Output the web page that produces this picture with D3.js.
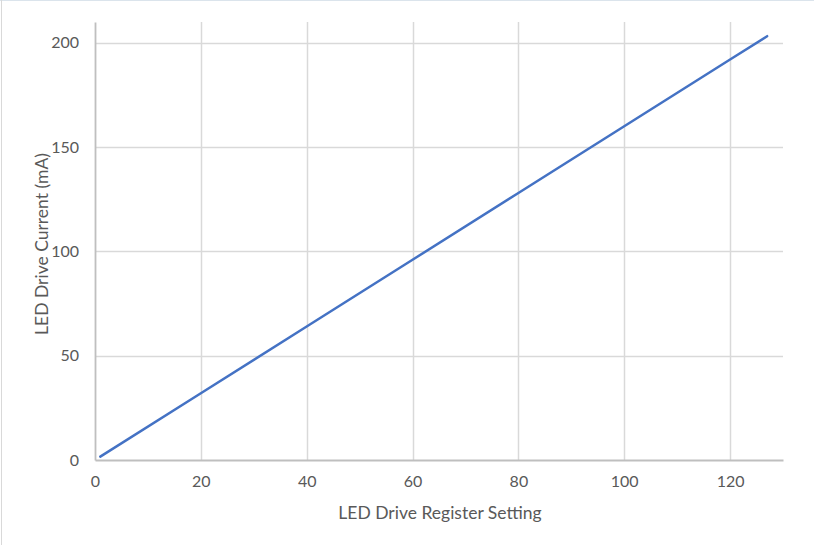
<!DOCTYPE html>
<html><head><meta charset="utf-8">
<script src="https://cdn.jsdelivr.net/npm/d3@7"></script>
<style>body{margin:0;background:#fff}svg{display:block}</style>
</head><body>
<svg id="c" width="814" height="545"></svg>
<script>
const registerSetting = [1, 20, 40, 60, 80, 100, 120, 127];
const driveCurrent = [1.6, 32, 64, 96, 128, 160, 192, 203.2];
const xTicks = [0, 20, 40, 60, 80, 100, 120];
const yTicks = [0, 50, 100, 150, 200];
const xTitle = "LED Drive Register Setting";
const yTitle = "LED Drive Current (mA)";

const svg = d3.select("#c");
const font = "Lato, 'Open Sans', sans-serif";
const m = {l: 95, r: 783, t: 22, b: 460};
const x = d3.scaleLinear().domain([0, 130]).range([m.l, m.r]);
const y = d3.scaleLinear().domain([0, 210]).range([m.b, m.t]);

// outer border
svg.append("line").attr("x1",0).attr("x2",814).attr("y1",0.5).attr("y2",0.5).attr("stroke","#dbe4ec");
svg.append("line").attr("x1",1.5).attr("x2",1.5).attr("y1",0).attr("y2",545).attr("stroke","#d9d9d9");

// grid
svg.append("g").selectAll("line").data(yTicks.filter(d=>d>0)).join("line")
  .attr("x1", m.l).attr("x2", m.r).attr("y1", d=>Math.round(y(d))+0.5).attr("y2", d=>Math.round(y(d))+0.5)
  .attr("stroke","#d9d9d9").attr("stroke-width",1.5);
svg.append("g").selectAll("line").data(xTicks.filter(d=>d>0)).join("line")
  .attr("y1", m.t).attr("y2", m.b).attr("x1", d=>Math.round(x(d))+0.5).attr("x2", d=>Math.round(x(d))+0.5)
  .attr("stroke","#d9d9d9").attr("stroke-width",1.5);

// axes
const xAxis = svg.append("g").attr("transform",`translate(0,${m.b})`)
  .call(d3.axisBottom(x).tickValues(xTicks).tickSize(0).tickPadding(16));
const yAxis = svg.append("g").attr("transform",`translate(${m.l},0)`)
  .call(d3.axisLeft(y).tickValues(yTicks).tickSize(0).tickPadding(16));
[xAxis, yAxis].forEach(a => {
  a.select(".domain").attr("stroke","#bfbfbf").attr("stroke-width",1.8);
  a.selectAll("text").attr("fill","#595959").attr("font-family",font).attr("font-size","16px");
});

// line
svg.append("path").datum(registerSetting.map((d,i)=>[d, driveCurrent[i]]))
  .attr("fill","none").attr("stroke","#4472c4").attr("stroke-width",2.5).attr("stroke-linecap","round")
  .attr("d", d3.line().x(d=>x(d[0])).y(d=>y(d[1])));

// titles
svg.append("text").attr("x", 440).attr("y", 519).attr("text-anchor","middle")
  .attr("fill","#595959").attr("font-family",font).attr("font-size","17.5px").text(xTitle);
svg.append("text").attr("transform","translate(48,244) rotate(-90)").attr("text-anchor","middle")
  .attr("fill","#595959").attr("font-family",font).attr("font-size","17.5px").text(yTitle);
</script>
</body></html>
